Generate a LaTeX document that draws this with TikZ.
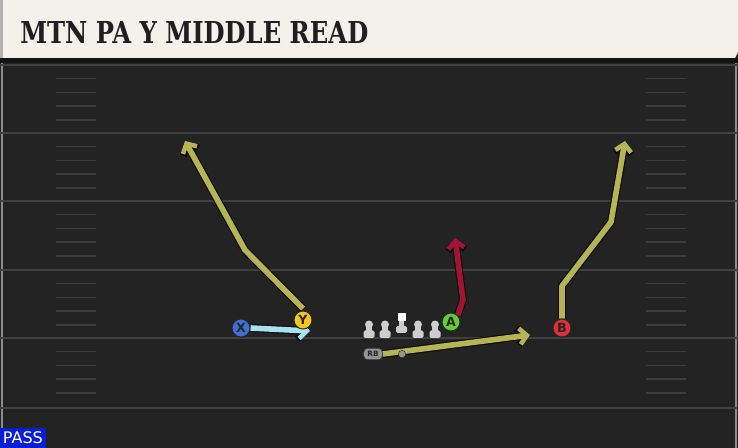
\documentclass[tikz,border=0pt]{standalone}
\usepackage{fontspec}
\setmainfont{DejaVu Serif}
\setsansfont{DejaVu Sans}
\newfontfamily\titlefont{DejaVu Serif}[UprightFont={* Bold}]
\usetikzlibrary{arrows.meta}

\definecolor{fieldbg}{RGB}{35,35,35}
\definecolor{fieldline}{RGB}{64,64,64}
\definecolor{hashline}{RGB}{60,60,60}
\definecolor{headbg}{RGB}{244,241,234}
\definecolor{routeolive}{RGB}{182,180,84}
\definecolor{routecyan}{RGB}{168,226,240}
\definecolor{routered}{RGB}{160,20,52}
\definecolor{plblue}{RGB}{62,112,214}
\definecolor{plyellow}{RGB}{246,198,32}
\definecolor{plgreen}{RGB}{98,206,52}
\definecolor{plred}{RGB}{224,46,60}
\definecolor{olgray}{RGB}{206,206,206}
\definecolor{passblue}{RGB}{10,30,214}

\tikzset{
  player/.style={circle,draw=black!85,line width=0.7pt,minimum size=13.5pt,inner sep=0pt,
    font=\sffamily\bfseries\fontsize{9.5}{9.5}\selectfont,text=black!85},
  rbback/.style={draw=black!80,fill=black!42,rounded corners=3pt,minimum width=14pt,minimum height=8.5pt,
    inner sep=0pt,font=\sffamily\bfseries\fontsize{5.5}{5.5}\selectfont,text=black!85},
  qbdot/.style={circle,fill=black!42,draw=black!80,line width=0.4pt,minimum size=5.5pt,inner sep=0pt},
  route/.style={line width=4.2pt,color=#1,line join=round,
    -{Straight Barb[length=5.5pt,width=12pt,line width=3.4pt]},
    preaction={draw=black!95,line width=6pt,
      -{Straight Barb[length=5.9pt,width=13pt,line width=5pt]}}},
  hash/.style={hashline,line width=1.2pt},
  yard/.style={fieldline,line width=1.5pt}
}

\begin{document}
\begin{tikzpicture}[x=0.75pt,y=0.75pt,yscale=-1,xscale=1]
\useasboundingbox (0,0) rectangle (738,448);

%Shape: Field
\fill[fieldbg] (0,0) rectangle (738,448);
\draw[black!45,line width=0.8pt] (2,63) -- (2,448);
\draw[black!45,line width=0.8pt] (736,63) -- (736,448);
%Yard lines
\foreach \yy in {65,133,201,270,338,408} {
  \draw[yard] (0,\yy) -- (738,\yy);
}
%Hash marks
\foreach \yy in {65,133,201,270,338} {
  \foreach \k in {1,2,3,4} {
    \draw[hash] (56,\yy+13.7*\k) -- (96,\yy+13.7*\k);
    \draw[hash] (646,\yy+13.7*\k) -- (686,\yy+13.7*\k);
  }
}

%Shape: Header
\fill[black!92] (0,58) rectangle (738,63);
\fill[headbg] (0,0) -- (738,0) -- (738,52) -- (735,58) -- (0,58) -- cycle;
\fill[black!30] (0,0) rectangle (3,58);
% Text Node
\node[anchor=west,inner sep=0pt,text=black!88] (title) at (20,33)
  {\resizebox{261pt}{16.5pt}{\titlefont MTN PA Y MIDDLE READ}};

%Shape: Line
\foreach \lx in {369,385,418,435} {
  \fill[olgray,rounded corners=1.2pt] (\lx-5.5,330.5) rectangle (\lx+5.5,338);
  \fill[olgray] (\lx-2.8,324) rectangle (\lx+2.8,332);
  \fill[olgray] (\lx,324.5) circle (4);
}
\fill[olgray,rounded corners=1.2pt] (396,326) rectangle (407,333);
\fill[olgray] (398.8,319) rectangle (404.2,328);
\fill[white] (397.5,313.5) rectangle (405.5,321.5);

%Players
\node[player,fill=plblue] (X) at (241,328) {X};
\node[player,fill=plyellow] (Y) at (303,320) {Y};
\node[player,fill=plgreen] (A) at (451,322) {A};
\node[player,fill=plred] (B) at (562,328) {B};
\node[rbback] (RB) at (373,354) {RB};
\node[qbdot] (QB) at (402,354) {};

%Route ends
\coordinate (y1) at (245,250);
\coordinate (y2) at (185,141);
\coordinate (x1) at (310,331);
\coordinate (a1) at (463,300);
\coordinate (a2) at (455,238);
\coordinate (b1) at (562,286);
\coordinate (b2) at (611,222);
\coordinate (b3) at (625,141);
\coordinate (r1) at (530,335);

%Routes
\draw[route=routeolive] (Y.north) ++(0,-2) -- (y1) -- (y2);
\draw[route=routecyan] (X.east) -- (x1);
\draw[route=routered] (A.north east) -- (a1) -- (a2);
\draw[route=routeolive] (B.north) -- (b1) -- (b2) -- (b3);
\draw[route=routeolive] (RB.east) -- (r1);
%Players again on top
\node[player,fill=plblue] at (X) {X};
\node[player,fill=plyellow] at (Y) {Y};
\node[player,fill=plgreen] at (A) {A};
\node[player,fill=plred] at (B) {B};
\node[rbback] at (RB) {RB};
\node[qbdot] at (QB) {};

% Text Node
\node[fill=passblue,text=white,anchor=south west,minimum width=34pt,minimum height=15pt,
  inner sep=0pt,font=\sffamily\fontsize{12}{12}\selectfont] (pass) at (0,448) {PASS};
\end{tikzpicture}
\end{document}
